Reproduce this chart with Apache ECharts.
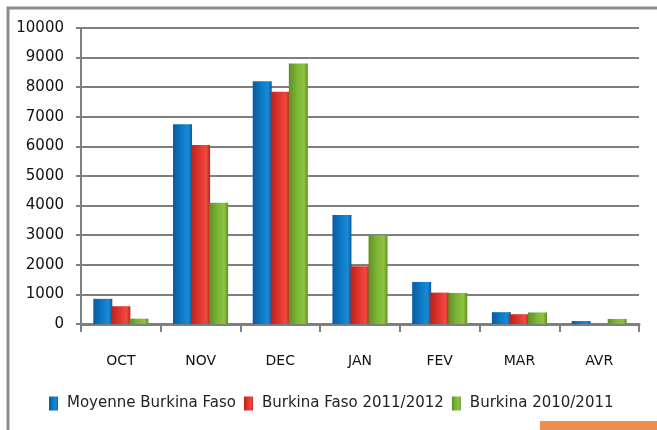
<!DOCTYPE html>
<html>
<head>
<meta charset="utf-8">
<script src="https://cdn.jsdelivr.net/npm/echarts@6/dist/echarts.min.js"></script>
<style>
  html, body { margin: 0; padding: 0; background: #fff; }
  #main { width: 657px; height: 430px; }
</style>
</head>
<body>
<div id="main"></div>
<script>
// categories (months)
var months = ["OCT", "NOV", "DEC", "JAN", "FEV", "MAR", "AVR"];
// series values
var moyenne = [850, 6750, 8200, 3680, 1420, 400, 100];
var bf2011 = [600, 6050, 7850, 1950, 1060, 330, 0];
var bf2010 = [180, 4100, 8800, 3000, 1050, 390, 170];
var seriesNames = ["Moyenne Burkina Faso", "Burkina Faso 2011/2012", "Burkina 2010/2011"];

function shade(dark, mid, light) {
  return {
    type: "linear", x: 0, y: 0, x2: 1, y2: 0,
    colorStops: [
      { offset: 0, color: dark },
      { offset: 0.45, color: mid },
      { offset: 0.8, color: light },
      { offset: 1, color: dark }
    ]
  };
}

var colors = [
  shade("#0a5a9e", "#0b79c6", "#1a8ad6"),
  shade("#b8231d", "#e3342c", "#ee4a40"),
  shade("#5f8f24", "#7db536", "#8cc43f")
];
var legendColors = ["#0b79c6", "#e3342c", "#7db536"];

var myChart = echarts.init(document.getElementById("main"));

var textFont = "DejaVu Sans";

var option = {
  backgroundColor: "#fff",
  animation: false,
  color: legendColors,
  grid: { left: 81, right: 18, top: 28, bottom: 106 },
  legend: {
    data: seriesNames,
    top: 391,
    left: 44,
    itemWidth: 9,
    itemHeight: 14,
    itemGap: 8,
    icon: "rect",
    textStyle: { color: "#222", fontFamily: textFont, fontSize: 15, padding: [0, 0, 0, 4] }
  },
  xAxis: {
    type: "category",
    data: months,
    axisLine: { lineStyle: { color: "#7f7f7f", width: 3 } },
    axisTick: { show: true, length: 8, lineStyle: { color: "#7f7f7f", width: 2 } },
    axisLabel: { color: "#111", fontFamily: textFont, fontSize: 14, margin: 30 }
  },
  yAxis: {
    type: "value",
    min: 0,
    max: 10000,
    interval: 1000,
    axisLine: { show: true, lineStyle: { color: "#7f7f7f", width: 2 } },
    axisTick: { show: true, length: 5, lineStyle: { color: "#7f7f7f", width: 2 } },
    axisLabel: {
      color: "#111", fontFamily: textFont, fontSize: 15, margin: 17,
      formatter: function (v) { return String(v); }
    },
    splitLine: { lineStyle: { color: "#7f7f7f", width: 2 } }
  },
  graphic: [
    {
      type: "rect",
      shape: { x: 8, y: 8, width: 700, height: 500 },
      style: { fill: "none", stroke: "#8c8c8c", lineWidth: 3 },
      z: -1
    },
    {
      type: "rect",
      shape: { x: 540, y: 421, width: 117, height: 9 },
      style: { fill: "#f08c4e" },
      z: 10
    }
  ],
  series: [
    {
      name: seriesNames[0], type: "bar", data: moyenne,
      barWidth: 19, barGap: "-5%",
      itemStyle: { color: colors[0] }
    },
    {
      name: seriesNames[1], type: "bar", data: bf2011,
      barWidth: 19, barGap: "-5%",
      itemStyle: { color: colors[1] }
    },
    {
      name: seriesNames[2], type: "bar", data: bf2010,
      barWidth: 19, barGap: "-5%",
      itemStyle: { color: colors[2] }
    }
  ]
};

myChart.setOption(option);
</script>
</body>
</html>
